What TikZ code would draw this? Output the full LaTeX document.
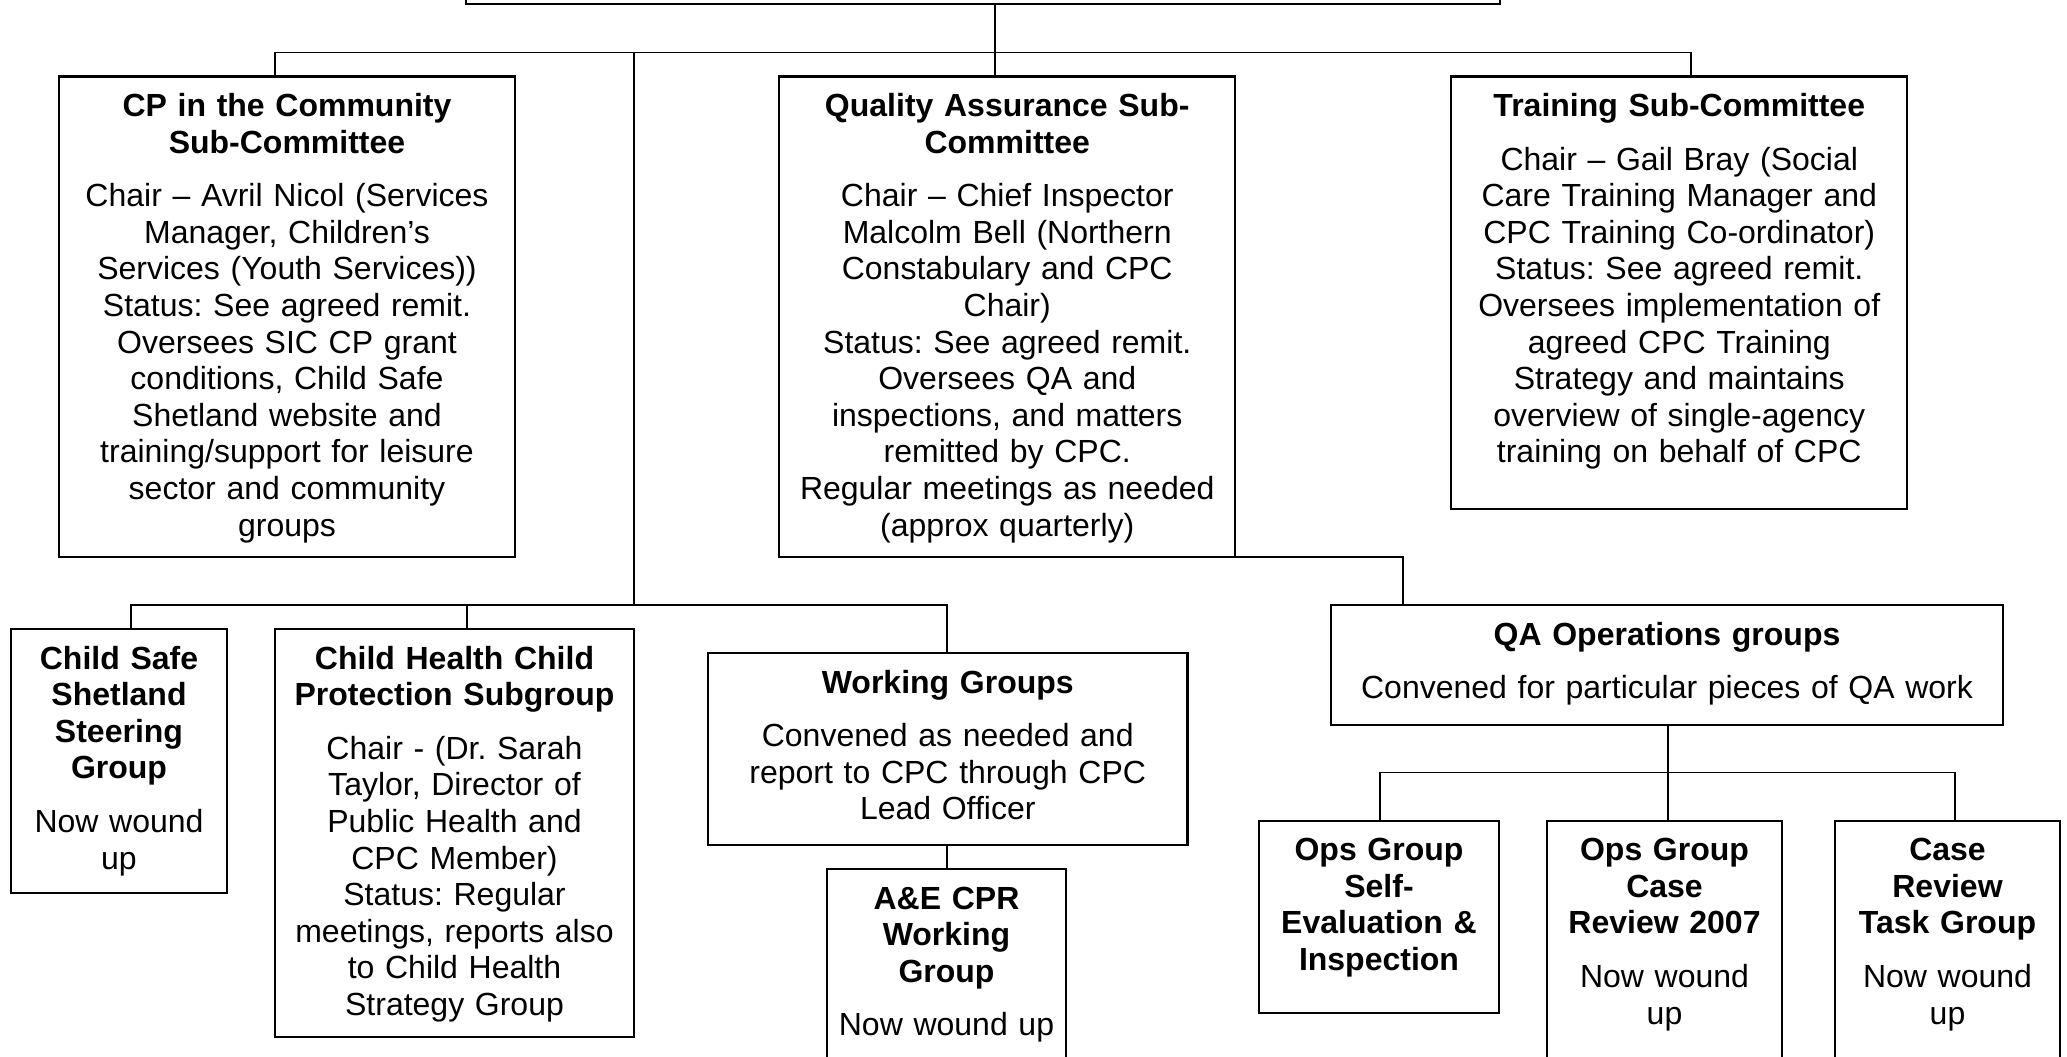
\documentclass[tikz,border=0pt]{standalone}
\usepackage{fontspec}
\setmainfont{Liberation Sans}
\frenchspacing
\usepackage{tikz}
\usetikzlibrary{positioning,calc}

\tikzset{
   unit/.style 2 args={draw, line width=1.1pt, anchor=north, align=center,
      inner xsep=3pt, inner ysep=0pt, outer sep=0pt, text width=#1,
      text height=20pt, text depth=#2,
      font=\fontsize{16}{18.3}\selectfont},
   link/.style={line width=0.7pt},
}

\begin{document}
\begin{tikzpicture}[x=0.5pt,y=-0.5pt]
      \useasboundingbox (0,0) rectangle (2067,1056);
      \clip (0,0) rectangle (2067,1056);

      \node[draw, line width=1.1pt, outer sep=0pt, minimum width=517pt, minimum height=40pt, anchor=south] (top) at (983,4) {};

      \node[unit={222pt}{220.25pt}] (cp) at (287,76.5)
         {{\bfseries CP in the Community\\Sub-Committee}\\[8.5pt]
          Chair -- Avril Nicol (Services\\Manager, Children’s\\Services (Youth Services))\\
          Status: See agreed remit.\\Oversees SIC CP grant\\conditions, Child Safe\\
          Shetland website and\\training/support for leisure\\sector and community\\groups};
      \node[unit={222pt}{220.25pt}] (qa) at (1007.25,76.5)
         {{\bfseries Quality Assurance Sub-\\Committee}\\[8.5pt]
          Chair -- Chief Inspector\\Malcolm Bell (Northern\\Constabulary and CPC\\Chair)\\
          Status: See agreed remit.\\Oversees QA and\\inspections, and matters\\
          remitted by CPC.\\Regular meetings as needed\\(approx quarterly)};
      \node[unit={222pt}{196.25pt}] (train) at (1679.25,76.5)
         {{\bfseries Training Sub-Committee}\\[8.5pt]
          Chair -- Gail Bray (Social\\Care Training Manager and\\CPC Training Co-ordinator)\\
          Status: See agreed remit.\\Oversees implementation of\\agreed CPC Training\\
          Strategy and maintains\\overview of single-agency\\training on behalf of CPC};

      \node[unit={102pt}{112pt}] (csafe) at (119,629)
         {{\bfseries Child Safe\\Shetland\\Steering\\Group}\\[8.5pt]Now wound\\up};
      \node[unit={173.5pt}{184pt}] (chealth) at (454.5,629)
         {{\bfseries Child Health Child\\Protection Subgroup}\\[8.5pt]
          Chair - (Dr. Sarah\\Taylor, Director of\\Public Health and\\CPC Member)\\
          Status: Regular\\meetings, reports also\\to Child Health\\Strategy Group};
      \node[unit={233.75pt}{76pt}] (wg) at (947.75,653)
         {{\bfseries Working Groups}\\[8.5pt]
          Convened as needed and\\report to CPC through CPC\\Lead Officer};
      \node[unit={113.5pt}{82pt}] (ae) at (946.5,869)
         {{\bfseries A\&E CPR\\Working\\Group}\\[8.5pt]Now wound up};

      \node[unit={330pt}{40pt}] (qaops) at (1667,605)
         {{\bfseries QA Operations groups}\\[8.5pt]Convened for particular pieces of QA work};
      \node[unit={114pt}{76pt}] (opsse) at (1379,820.7)
         {{\bfseries Ops Group\\Self-\\Evaluation \&\\Inspection}};
      \node[unit={111.5pt}{102pt}] (opscase) at (1664.5,820.7)
         {{\bfseries Ops Group\\Case\\Review 2007}\\[8.5pt]Now wound\\up};
      \node[unit={106.5pt}{102pt}] (review) at (1947.5,820.7)
         {{\bfseries Case\\Review\\Task Group}\\[8.5pt]Now wound\\up};

      % sub-committee level
      \coordinate (b1) at (275,52.4);
      \coordinate (b2) at (634,52.4);
      \coordinate (b3) at (995,52.4);
      \coordinate (b4) at (1691,52.4);
      \draw[link] (top.south -| b3) -- (qa.north -| b3);
      \draw[link] (cp.north -| b1) -- (b1) -- (b4) -- (train.north -| b4);

      % groups level
      \coordinate (c1) at (131,605);
      \coordinate (c2) at (467,605);
      \coordinate (c3) at (634,605);
      \coordinate (c4) at (947,605);
      \draw[link] (b2) -- (c3);
      \draw[link] (csafe.north -| c1) -- (c1) -- (c4) -- (wg.north -| c4);
      \draw[link] (c2) -- (chealth.north -| c2);
      \draw[link] (wg.south -| c4) -- (ae.north -| c4);

      % QA operations
      \coordinate (q1) at (1403,557);
      \draw[link] (qa.south) -| (qaops.north -| q1);
      \coordinate (d1) at (1380,772.3);
      \coordinate (d2) at (1668,772.3);
      \coordinate (d3) at (1955,772.3);
      \draw[link] (qaops.south -| d2) -- (opscase.north -| d2);
      \draw[link] (opsse.north -| d1) -- (d1) -- (d3) -- (review.north -| d3);
\end{tikzpicture}
\end{document}
